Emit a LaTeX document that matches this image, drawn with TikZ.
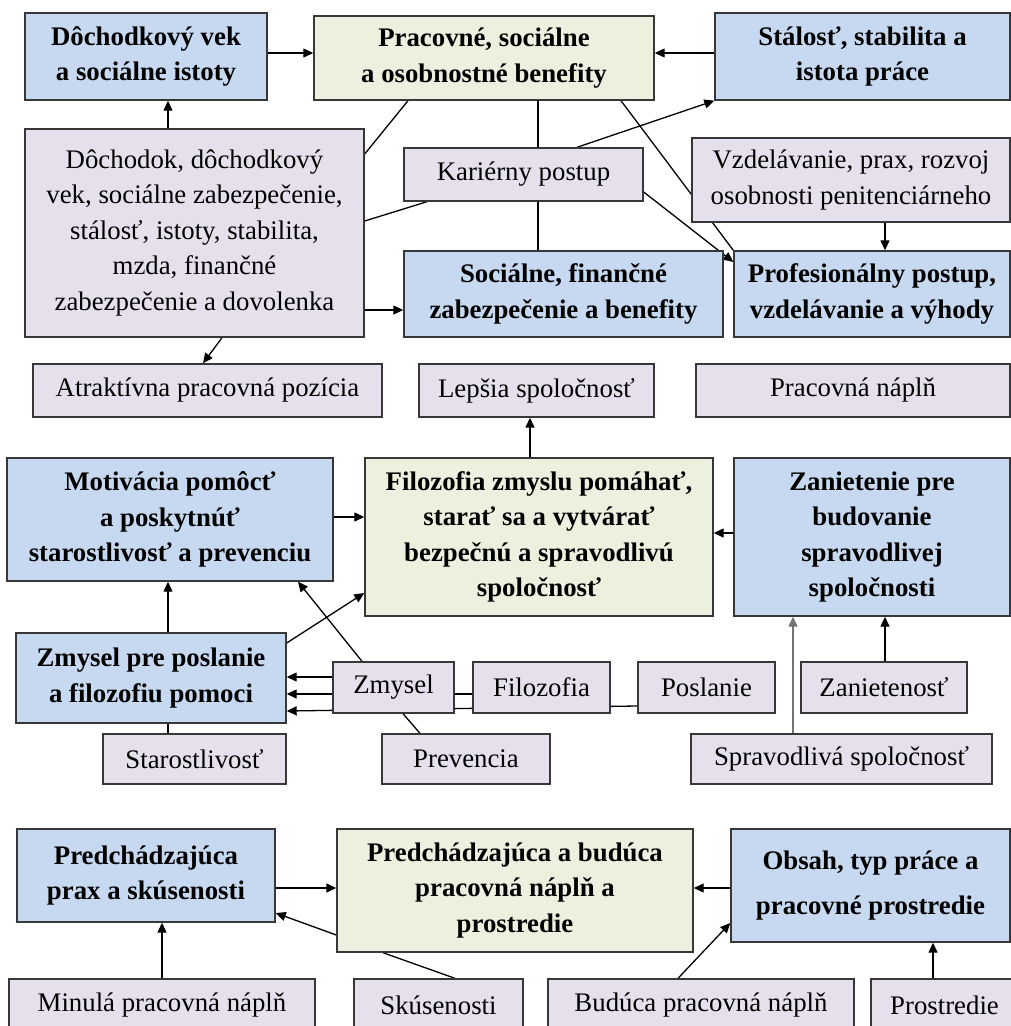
\documentclass[tikz,border=0pt]{standalone}
\usepackage{fontspec}
\setmainfont{Liberation Serif}
\usetikzlibrary{arrows.meta}
\pgfdeclarelayer{background}
\pgfsetlayers{background,main}

\definecolor{boxblue}{HTML}{C6D9F1}
\definecolor{boxgreen}{HTML}{EBF1DE}
\definecolor{boxlilac}{HTML}{E5E0EC}
\definecolor{boxline}{HTML}{383838}

\tikzset{
  base/.style={draw=boxline, line width=1.4pt, rectangle, align=center, inner sep=2pt,
    font=\fontsize{26.8pt}{35.5pt}\selectfont},
  keybox/.style={base, fill=boxblue, font=\fontsize{26.8pt}{35.5pt}\selectfont\bfseries},
  corebox/.style={base, fill=boxgreen, font=\fontsize{26.8pt}{35.5pt}\selectfont\bfseries},
  itembox/.style={base, fill=boxlilac},
  arr/.style={line width=1.3pt, -{Triangle[length=10pt,width=9pt]}},
  link/.style={line width=1.3pt},
  greyarr/.style={arr, draw=black!55}
}

\begin{document}
\begin{tikzpicture}[x=1pt,y=-1pt]
\useasboundingbox (0,0) rectangle (1011,1026);
\clip (0,0) rectangle (1011,1026);

% ---------- block 1: social security and benefits ----------
\node[keybox, minimum width=242, minimum height=87] (dvek) at (146,56.5)
  {Dôchodkový vek\\a sociálne istoty};
\node[corebox, minimum width=340, minimum height=84] (benef) at (484,58)
  {Pracovné, sociálne\\a osobnostné benefity};
\node[keybox, minimum width=295, minimum height=87] (stalost) at (862.5,56.5)
  {Stálosť, stabilita a\\istota práce};
\node[itembox, minimum width=339, minimum height=208] (dochodok) at (194.5,233)
  {Dôchodok, dôchodkový\\vek, sociálne zabezpečenie,\\stálosť, istoty, stabilita,\\mzda, finančné\\zabezpečenie a dovolenka};
\node[itembox, minimum width=239, minimum height=53] (kariera) at (523.5,174.5)
  {Kariérny postup};
\node[itembox, minimum width=318, minimum height=84] (vzdel) at (851,180)
  {Vzdelávanie, prax, rozvoj\\osobnosti penitenciárneho};
\node[keybox, minimum width=319, minimum height=86] (socfin) at (563.5,294)
  {Sociálne, finančné\\zabezpečenie a benefity};
\node[keybox, minimum width=276, minimum height=86] (prof) at (872,294)
  {Profesionálny postup,\\vzdelávanie a výhody};
\node[itembox, minimum width=349, minimum height=53] (atrakt) at (207.5,390.5)
  {Atraktívna pracovná pozícia};
\node[itembox, minimum width=235, minimum height=53] (lepsia) at (536.5,390.5)
  {Lepšia spoločnosť};
\node[itembox, minimum width=314, minimum height=53] (napln) at (853,390.5)
  {Pracovná náplň};

% ---------- block 2: philosophy of helping ----------
\node[keybox, minimum width=326, minimum height=123] (motiv) at (170,519.5)
  {Motivácia pomôcť\\a poskytnúť\\starostlivosť a prevenciu};
\node[corebox, minimum width=348, minimum height=158] (filoz) at (539,537)
  {Filozofia zmyslu pomáhať,\\starať sa a vytvárať\\bezpečnú a spravodlivú\\spoločnosť};
\node[keybox, minimum width=276, minimum height=158] (zaniet) at (872,537)
  {Zanietenie pre\\budovanie\\spravodlivej\\spoločnosti};
\node[keybox, minimum width=270, minimum height=90] (zmyslpp) at (151,678)
  {Zmysel pre poslanie\\a filozofiu pomoci};
\node[itembox, minimum width=121, minimum height=51] (zmysel) at (393.5,687.5)
  {Zmysel};
\node[itembox, minimum width=137, minimum height=51] (filo) at (541.5,687.5)
  {Filozofia};
\node[itembox, minimum width=137, minimum height=51] (poslanie) at (706.5,687.5)
  {Poslanie};
\node[itembox, minimum width=166, minimum height=51] (zanietenost) at (884,687.5)
  {Zanietenosť};
\node[itembox, minimum width=183, minimum height=50] (starost) at (194.5,759)
  {Starostlivosť};
\node[itembox, minimum width=168, minimum height=50] (prevencia) at (466,759)
  {Prevencia};
\node[itembox, minimum width=301, minimum height=50] (spravod) at (841.5,759)
  {Spravodlivá spoločnosť};

% ---------- block 3: work content and environment ----------
\node[keybox, minimum width=258, minimum height=93] (predprax) at (146,875.5)
  {Predchádzajúca\\prax a skúsenosti};
\node[corebox, minimum width=356, minimum height=123] (predbud) at (515,890.5)
  {Predchádzajúca a budúca\\pracovná náplň a\\prostredie};
\node[keybox, minimum width=279, minimum height=113] (obsah) at (870.5,885.5)
  {Obsah, typ práce a\\[9pt]pracovné prostredie};
\node[itembox, minimum width=306, minimum height=53] (minula) at (162,1005.5)
  {Minulá pracovná náplň};
\node[itembox, minimum width=169, minimum height=53] (skus) at (438.5,1005.5)
  {Skúsenosti};
\node[itembox, minimum width=306, minimum height=53] (buduca) at (701,1005.5)
  {Budúca pracovná náplň};
\node[itembox, minimum width=147, minimum height=53] (prostr) at (944.5,1005.5)
  {Prostredie};

% ---------- connectors (kept behind the boxes) ----------
\begin{pgfonlayer}{background}
  % block 1
  \draw[arr] (dvek.east |- 0,53) -- (benef.west |- 0,53);
  \draw[arr] (stalost.west |- 0,53) -- (benef.east |- 0,53);
  \draw[arr] (dochodok.north -| 168,0) -- (dvek.south -| 168,0);
  \draw[arr] (dochodok.east |- 0,310) -- (socfin.west |- 0,310);
  \draw[link] (dochodok.east |- 0,154) -- (benef.south -| 408,0);
  \draw[link] (dochodok.east |- 0,221) -- (kariera.south -| 427,0);
  \draw[link] (benef.south -| 538,0) -- (kariera.north -| 538,0);
  \draw[link] (kariera.south -| 538,0) -- (socfin.north -| 538,0);
  \draw[arr] (kariera.north -| 577,0) -- (stalost.south west);
  \draw[arr] (kariera.east |- 0,192) -- (prof.west |- 0,262);
  \draw[link] (benef.south -| 621,0) -- (prof.north west);
  \draw[arr] (vzdel.south -| 885,0) -- (prof.north -| 885,0);
  \draw[arr] (dochodok.south -| 222,0) -- (atrakt.north -| 203,0);
  % block 2
  \draw[arr] (filoz.north -| 530,0) -- (lepsia.south -| 530,0);
  \draw[arr] (motiv.east |- 0,517) -- (filoz.west |- 0,517);
  \draw[arr] (zaniet.west |- 0,533) -- (filoz.east |- 0,533);
  \draw[arr] (zmyslpp.north -| 168,0) -- (motiv.south -| 168,0);
  \draw[arr] (zmyslpp.east |- 0,643) -- (filoz.west |- 0,593);
  \draw[arr] (zmysel.north -| 362,0) -- (motiv.south -| 298,0);
  \draw[arr] (zmysel.west |- 0,677) -- (zmyslpp.east |- 0,677);
  \draw[arr] (filo.west |- 0,694) -- (zmyslpp.east |- 0,694);
  \draw[arr] (poslanie.west |- 0,706) -- (zmyslpp.east |- 0,711);
  \draw[link] (zmysel.south -| 403,0) -- (prevencia.north -| 420,0);
  \draw[link] (starost.north -| 168,0) -- (zmyslpp.south -| 168,0);
  \draw[greyarr] (spravod.north -| 793,0) -- (zaniet.south -| 793,0);
  \draw[arr] (zanietenost.north -| 885,0) -- (zaniet.south -| 885,0);
  % block 3
  \draw[arr] (predprax.east |- 0,888) -- (predbud.west |- 0,888);
  \draw[arr] (obsah.west |- 0,888) -- (predbud.east |- 0,888);
  \draw[arr] (minula.north -| 162,0) -- (predprax.south -| 162,0);
  \draw[arr] (predbud.west |- 0,935) -- (predprax.east |- 0,913);
  \draw[link] (skus.north -| 455,0) -- (predbud.south -| 383,0);
  \draw[arr] (buduca.north -| 678,0) -- (obsah.west |- 0,923);
  \draw[arr] (prostr.north -| 933,0) -- (obsah.south -| 933,0);
\end{pgfonlayer}
\end{tikzpicture}
\end{document}
